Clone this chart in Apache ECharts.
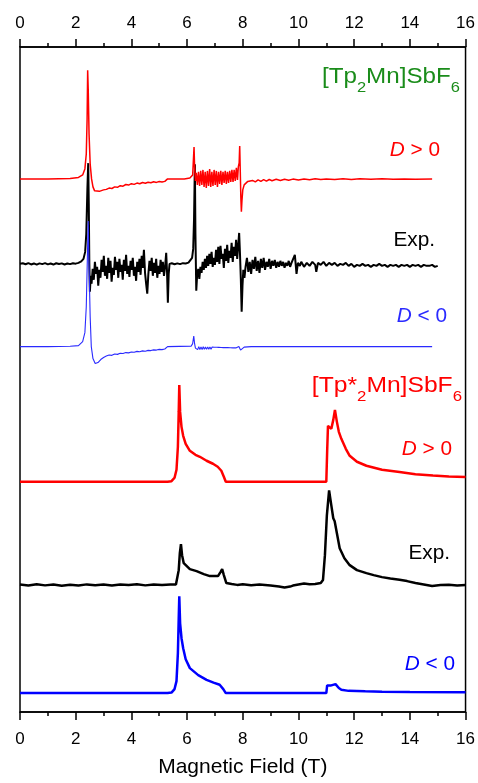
<!DOCTYPE html>
<html><head><meta charset="utf-8">
<script src="https://cdn.jsdelivr.net/npm/echarts@6/dist/echarts.min.js"></script>
<style>html,body{margin:0;padding:0;background:#fff}#c{width:478px;height:783px}</style>
</head><body><div id="c"></div>
<script>
// x axis (Magnetic Field, T)
const fieldMin = 0, fieldMax = 16, fieldStep = 2;
const axisTitle = 'Magnetic Field (T)';

// vertical offsets of the stacked spectra (arbitrary intensity units)
const offsets = { topSimPos: 534.7, topExp: 449.5, topSimNeg: 366.5, botSimPos: 231, botExp: 127.3, botSimNeg: 19 };

// [Tp2Mn]SbF6 : simulation D > 0
const topSimPos = [[0,0],[1,0],[1.8,0.3],[2.1,1.5],[2.25,4],[2.33,10],[2.38,25],[2.41,60],[2.43,109],[2.45,90],[2.48,45],[2.52,15],[2.57,0],[2.62,-8],[2.68,-12],[2.75,-13.4],[2.85,-12.5],[3.0,-11],[3.1,-10.5],[3.2,-9.2],[3.3,-9.6],[3.4,-8],[3.5,-8.4],[3.6,-6.8],[3.7,-7.3],[3.8,-5.6],[3.9,-6.2],[4.0,-4.8],[4.1,-5.5],[4.2,-4.2],[4.3,-4.9],[4.4,-3.6],[4.5,-4.3],[4.6,-3.3],[4.7,-3.9],[4.8,-2.9],[4.9,-3.5],[5.0,-2.7],[5.1,-3.2],[5.2,-2.5],[5.27,-2.8],[5.3,0],[5.9,0],[6.1,1],[6.2,4],[6.25,32],[6.27,12],[6.3,-2],
[6.33,6],[6.37,-6],[6.41,7],[6.45,-7],[6.49,8],[6.53,-6],[6.57,9],[6.61,-8],[6.65,7],[6.69,-9],[6.73,8],[6.77,-7],[6.81,10],[6.85,-8],[6.89,7],[6.93,-7],[6.97,9],[7.01,-6],[7.05,8],[7.09,-8],[7.13,7],[7.17,-5],[7.21,8],[7.25,-6],[7.29,7],[7.33,-4],[7.37,8],[7.41,-5],[7.45,7],[7.49,-4],[7.53,8],[7.57,-3],[7.61,9],[7.65,-3],[7.69,9],[7.73,-2],[7.77,11],[7.81,-1],[7.84,12],
[7.87,16],[7.89,33],[7.91,8],[7.93,-18],[7.95,-33],[7.97,-22],[8.0,-11],[8.05,-6],[8.1,-4],[8.18,-2.5],[8.25,-3.5],[8.35,-1.5],[8.45,-3],[8.55,-1],[8.65,-2.5],[8.75,-0.8],[8.85,-2.2],[8.95,-0.6],[9.05,-1.8],[9.2,-0.4],[9.35,-1.6],[9.5,-0.3],[9.65,-1.3],[9.8,-0.2],[10.0,-1.1],[10.2,0],[10.4,-0.9],[10.6,0.1],[10.8,-0.7],[11.0,0],[11.3,-0.6],[11.6,0.1],[11.9,-0.5],[12.2,0.1],[12.6,-0.4],[13.0,0.1],[13.4,-0.3],[13.8,0],[14.2,-0.3],[14.8,0]];

// [Tp2Mn]SbF6 : experiment
const topExp = [[0,0],[0.1,0.6],[0.2,-0.4],[0.3,0.8],[0.4,-0.6],[0.5,0.4],[0.6,-0.8],[0.7,0.5],[0.8,-0.3],[0.9,0.7],[1.0,-0.5],[1.1,0.3],[1.2,-0.7],[1.3,0.6],[1.4,-0.2],[1.5,0.5],[1.6,-0.6],[1.7,0.4],[1.8,-0.3],[1.9,0.6],[2.0,0.2],[2.1,1],[2.2,2.5],[2.28,5],[2.34,12],[2.38,30],[2.42,75],[2.45,101],[2.47,60],[2.49,0],[2.51,-28],[2.54,-12],
[2.57,-20],[2.61,-5],[2.65,-16],[2.69,2],[2.73,-10],[2.77,-3],[2.81,-22],[2.85,-6],[2.89,-14],[2.93,4],[2.97,-8],[3.01,8],[3.05,-12],[3.09,-2],[3.13,-15],[3.17,6],[3.21,-9],[3.25,3],[3.29,-18],[3.33,-4],[3.37,-11],[3.41,7],[3.45,-6],[3.49,2],[3.53,-14],[3.57,5],[3.61,-8],[3.65,-1],[3.69,-16],[3.73,4],[3.77,-7],[3.81,9],[3.85,-10],[3.89,-2],[3.93,-13],[3.97,3],[4.01,-6],[4.05,6],[4.09,-12],[4.13,-3],[4.17,-17],[4.21,2],[4.25,-8],[4.29,5],[4.33,-11],[4.37,8],[4.41,-4],[4.45,14],[4.49,-9],[4.53,-20],[4.57,-30],[4.61,-10],[4.65,3],[4.69,-7],[4.73,6],[4.77,-12],[4.81,1],[4.85,-9],[4.89,5],[4.93,-14],[4.97,-2],[5.01,-10],[5.05,4],[5.09,-8],[5.13,2],[5.17,-12],[5.21,-3],[5.25,11],[5.28,-8],[5.31,-39],[5.34,-10],[5.37,0],
[5.45,0.6],[5.55,-0.4],[5.65,0.5],[5.75,-0.3],[5.85,0.7],[5.95,0.4],[6.05,1.2],[6.12,2.5],[6.18,6],[6.22,15],[6.25,45],[6.28,100],[6.3,30],[6.33,-27],[6.36,-12],
[6.4,-5],[6.44,-15],[6.48,-3],[6.52,-9],[6.56,2],[6.6,-6],[6.64,5],[6.68,-4],[6.72,8],[6.76,-2],[6.8,10],[6.84,0],[6.88,12],[6.92,-3],[6.96,6],[7.0,-1],[7.04,14],[7.08,2],[7.12,17],[7.16,0],[7.2,18],[7.24,5],[7.28,10],[7.32,-4],[7.36,15],[7.4,3],[7.44,19],[7.48,1],[7.52,13],[7.56,6],[7.6,21],[7.64,2],[7.68,17],[7.72,8],[7.76,24],[7.8,5],[7.84,20],[7.87,31],[7.9,10],[7.93,-15],[7.96,-48],[7.99,-22],[8.02,-6],[8.06,-14],
[8.1,-3],[8.15,6],[8.2,-8],[8.25,2],[8.3,-10],[8.35,4],[8.4,-5],[8.45,7],[8.5,-7],[8.55,3],[8.6,-9],[8.65,5],[8.7,-4],[8.75,6],[8.8,-6],[8.85,2],[8.9,-3],[8.95,5],[9.0,-5],[9.05,3],[9.1,-2],[9.15,4],[9.2,-4],[9.25,2],[9.3,-3],[9.35,3],[9.4,-2],[9.45,2],[9.5,-4],[9.55,1],[9.6,-2],[9.65,3],[9.7,-3],[9.75,1],[9.8,-1],[9.87,9],[9.93,-10],[9.98,1],[10.05,-2],[10.1,2],[10.2,-3],[10.3,1],[10.4,-2],[10.5,2],[10.6,-1],[10.64,-8],[10.7,1],[10.8,-1],[10.9,2],[11.0,-2],[11.1,1],[11.2,-1],[11.3,1],[11.4,-2],[11.5,0],[11.6,-1],[11.7,1],[11.8,-2],[11.9,0],[12.0,-3],[12.1,-1],[12.2,-2],[12.3,0],[12.4,-2],[12.5,-1],[12.6,-3],[12.7,-1],[12.8,-2],[12.9,0],[13.0,-2],[13.1,-1],[13.2,-3],[13.3,-1],[13.4,-2],[13.5,-1],[13.6,-3],[13.7,-1],[13.8,-2],[13.9,-1],[14.0,-3],[14.1,-1],[14.2,-2],[14.3,-1],[14.4,-3],[14.5,-1],[14.6,-2],[14.7,-2],[14.8,-1],[14.9,-3],[15.0,-2]];

// [Tp2Mn]SbF6 : simulation D < 0
const topSimNeg = [[0,0],[1,0],[1.8,0.3],[2.1,1],[2.25,5],[2.33,14],[2.38,40],[2.42,90],[2.45,126],[2.48,80],[2.52,30],[2.56,0],[2.62,-12],[2.7,-17],[2.8,-16],[2.9,-13],[3.0,-11],[3.1,-9.5],[3.2,-8.5],[3.3,-8.8],[3.4,-7.5],[3.5,-7.8],[3.6,-6.7],[3.7,-7],[3.8,-6],[3.9,-6.3],[4.0,-5.4],[4.1,-5.7],[4.2,-4.8],[4.3,-5.1],[4.4,-4.3],[4.5,-4.6],[4.6,-3.8],[4.7,-4],[4.8,-3.3],[4.9,-3.5],[5.0,-2.8],[5.1,-3],[5.2,-2.4],[5.27,-2.5],[5.3,0],[6.15,0.5],[6.2,3],[6.24,10.5],[6.27,3],[6.3,-1.5],
[6.34,0],[6.38,-3],[6.42,0],[6.46,-3],[6.5,-0.3],[6.54,-3],[6.58,-0.2],[6.62,-2.8],[6.66,-0.4],[6.7,-2.8],[6.74,-0.3],[6.78,-2.6],[6.82,-0.5],[6.86,-2.6],[6.9,-0.5],[6.94,-2.5],[6.98,-0.6],[7.02,-2.4],[7.06,-0.7],[7.1,-2.3],[7.14,-0.8],[7.18,-2.3],[7.22,-0.9],[7.26,-2.2],[7.3,-1],[7.34,-2.2],[7.38,-1],[7.42,-2.1],[7.46,-1],[7.5,-2],[7.55,-1.2],[7.6,-2],[7.65,-1.3],[7.7,-1.9],[7.75,-1.3],[7.8,-1.8],[7.86,0],[7.89,2],[7.92,-3.5],[7.96,-1.5],[8.05,-0.5],[8.3,0],[14.8,0]];

// [Tp*2Mn]SbF6 : simulation D > 0
const botSimPos = [[0,0],[5.3,0],[5.44,0.5],[5.55,4],[5.62,12],[5.67,35],[5.7,70],[5.72,97],[5.75,70],[5.8,55],[5.86,46],[5.95,38],[6.1,31],[6.3,27],[6.46,25],[6.7,21],[6.93,18],[7.1,15],[7.23,11],[7.32,5],[7.39,0],[11.0,0],[11.03,30],[11.06,56],[11.12,55],[11.18,53],[11.25,62],[11.31,72],[11.38,60],[11.45,50],[11.54,43],[11.7,33],[11.84,26],[12.1,20],[12.44,16],[13.0,12],[13.63,9.7],[14.2,7.5],[14.83,6.3],[15.4,5.3],[16.0,4.7]];

// [Tp*2Mn]SbF6 : experiment
const botExp = [[0,0.5],[0.3,-0.5],[0.6,0.8],[0.9,-0.3],[1.2,0.6],[1.5,-0.6],[1.8,0.4],[2.1,-0.4],[2.4,0.7],[2.7,-0.2],[3.0,0.5],[3.3,-0.5],[3.6,0.6],[3.9,0],[4.2,0.8],[4.5,-0.3],[4.8,0.6],[5.1,0.1],[5.4,0.7],[5.6,0.5],[5.66,1],[5.7,15],[5.74,32],[5.78,41],[5.82,30],[5.88,22],[5.92,20],[6.1,16],[6.34,14],[6.6,11],[6.82,9],[7.0,9],[7.11,9],[7.2,13],[7.26,16],[7.32,10],[7.41,2],[7.6,1],[7.8,0.2],[8.0,0.8],[8.3,-0.2],[8.6,0.5],[9.0,-0.5],[9.3,-1.5],[9.5,-2.5],[9.7,-1.5],[9.8,-0.5],[10.0,0.5],[10.2,1.5],[10.4,0.8],[10.6,1],[10.8,2],[10.88,5],[10.95,30],[11.02,70],[11.1,95],[11.18,80],[11.25,67],[11.3,64],[11.38,52],[11.48,37],[11.65,27],[11.84,20],[12.1,15],[12.44,12],[12.7,10],[13.0,8],[13.3,6.5],[13.63,5.3],[13.9,4],[14.2,2],[14.5,0.5],[14.8,-1],[15.1,0],[15.4,0.3],[15.7,-0.5],[16.0,0]];

// [Tp*2Mn]SbF6 : simulation D < 0
const botSimNeg = [[0,0],[5.3,0],[5.44,0.5],[5.55,4],[5.62,12],[5.67,40],[5.7,75],[5.72,97],[5.75,70],[5.8,55],[5.86,45],[5.95,34],[6.1,25],[6.4,18],[6.7,13.3],[6.95,10.5],[7.17,8.3],[7.3,4],[7.39,0],[11.0,0],[11.03,7.7],[11.15,7.5],[11.22,8],[11.33,9],[11.45,5],[11.54,3.3],[11.8,2.2],[12.4,1.7],[13.0,1.3],[14.0,1],[16.0,0.8]];

const FONT = 'Liberation Sans, Arial, sans-serif';

function shift(arr, off) { return arr.map(p => [p[0], p[1] + off]); }
function line(data, color, width, z) {
  return { type: 'line', data: data, showSymbol: false, symbol: 'none', z: z,
    lineStyle: { color: color, width: width }, itemStyle: { color: color }, animation: false, silent: true };
}

const chart = echarts.init(document.getElementById('c'), null, { renderer: 'canvas' });

const xCommon = {
  type: 'value', min: fieldMin, max: fieldMax, interval: fieldStep,
  axisLine: { show: true, lineStyle: { color: '#000', width: 1.5 } },
  axisTick: { show: true, length: 8, lineStyle: { color: '#000', width: 1.5 } },
  minorTick: { show: true, splitNumber: 2, length: 4, lineStyle: { color: '#000', width: 1.5 } },
  splitLine: { show: false }
};

function label(text, x, y, color, size, extra, sx) {
  return {
    type: 'text', x: x, y: y, silent: true, scaleX: sx || 1,
    style: Object.assign({ text: text, fill: color, fontSize: size, fontFamily: FONT, textAlign: 'right', textVerticalAlign: 'middle' }, extra || {})
  };
}
const italic = (c, s) => ({ rich: { i: { fontStyle: 'italic', fill: c, fontSize: s, fontFamily: FONT }, n: { fill: c, fontSize: s, fontFamily: FONT } } });
const sub = (c, s, ss) => ({ rich: { s: { fill: c, fontSize: ss, fontFamily: FONT, padding: [22, 0, 0, 0] }, n: { fill: c, fontSize: s, fontFamily: FONT } } });

chart.setOption({
  animation: false,
  backgroundColor: '#fff',
  grid: { left: 20, right: 12, top: 47, bottom: 69, show: true, borderColor: '#000', borderWidth: 1.5, backgroundColor: 'transparent' },
  xAxis: [
    Object.assign({}, xCommon, { position: 'bottom', name: axisTitle, nameLocation: 'middle', nameGap: 45,
      axisLabel: { fontSize: 17, color: '#000', fontFamily: FONT, margin: 19 },
      nameTextStyle: { fontSize: 21, color: '#000', fontFamily: FONT } }),
    Object.assign({}, xCommon, { position: 'top',
      axisLabel: { fontSize: 17, color: '#000', fontFamily: FONT, margin: 15 } })
  ],
  yAxis: { type: 'value', min: 0, max: 667, show: false },
  series: [
    line(shift(topExp, offsets.topExp), '#000000', 2, 2),
    line(shift(topSimPos, offsets.topSimPos), '#ff0000', 1.5, 3),
    line(shift(topSimNeg, offsets.topSimNeg), '#2a2aff', 1.1, 4),
    line(shift(botSimPos, offsets.botSimPos), '#ff0000', 2.5, 3),
    line(shift(botExp, offsets.botExp), '#000000', 2.5, 3),
    line(shift(botSimNeg, offsets.botSimNeg), '#0000ff', 2.5, 3)
  ],
  graphic: [
    label('{n|[Tp}{s|2}{n|Mn]SbF}{s|6}', 460, 77, '#1a8c1a', 22, sub('#1a8c1a', 22, 15), 1.1),
    label('{i|D}{n| > 0}', 440, 150, '#ff0000', 20, italic('#ff0000', 20), 1.04),
    label('Exp.', 435, 240, '#000', 20, null, 1.04),
    label('{i|D}{n| < 0}', 447, 316, '#2a2aff', 20, italic('#2a2aff', 20), 1.04),
    label('{n|[Tp*}{s|2}{n|Mn]SbF}{s|6}', 462, 386, '#ff0000', 22, sub('#ff0000', 22, 15), 1.12),
    label('{i|D}{n| > 0}', 452, 449, '#ff0000', 20, italic('#ff0000', 20), 1.04),
    label('Exp.', 450, 553, '#000', 20, null, 1.04),
    label('{i|D}{n| < 0}', 455, 664, '#0000ff', 20, italic('#0000ff', 20), 1.04)
  ]
});
</script>
</body></html>
